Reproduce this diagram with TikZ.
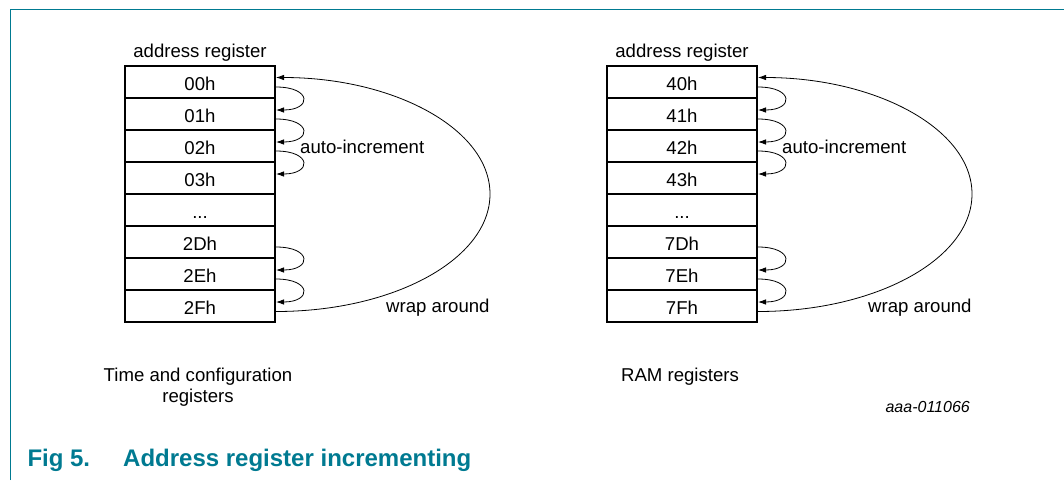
\documentclass[tikz,border=0pt]{standalone}
\usepackage{fontspec}
\setmainfont{Liberation Sans}
\usetikzlibrary{calc,arrows.meta}
\definecolor{nxpteal}{RGB}{0,122,145}
\tikzset{
  reg/.style={draw, line width=2pt, fill=white, minimum width=150pt, minimum height=32pt,
    inner sep=0pt, text height=16pt, text depth=0pt, font=\fontsize{18.6}{22}\selectfont},
  txt/.style={inner sep=0pt, font=\fontsize{18.6}{22}\selectfont},
  inc/.style={line width=0.8pt, -{Latex[length=8pt,width=5.5pt]}},
  wrap/.style={line width=0.8pt, -{Latex[length=8pt,width=5.5pt]}},
  frame/.style={draw=nxpteal, line width=1.5pt}
}
\begin{document}
\begin{tikzpicture}[x=1pt,y=-1pt]
\useasboundingbox (0,0) rectangle (1064,480);
\draw[frame] (10.5,480) -- (10.5,9.3) -- (1064,9.3);

% ---------- left diagram ----------
\node[txt, anchor=base] (Lhead) at (200,57.5) {address register};
\node[reg] (L0) at (200,82)  {00h};
\node[reg] (L1) at (200,114) {01h};
\node[reg] (L2) at (200,146) {02h};
\node[reg] (L3) at (200,178) {03h};
\node[reg] (L4) at (200,210) {...};
\node[reg] (L5) at (200,242) {2Dh};
\node[reg] (L6) at (200,274) {2Eh};
\node[reg] (L7) at (200,306) {2Fh};

\foreach \a/\b in {0/1,1/2,2/3,5/6,6/7}{
  \draw[inc] ($(L\a.east)+(0,5)$) .. controls ($(L\a.east)+(36,5)$) and ($(L\b.east)+(36,-4)$) .. ($(L\b.east)+(0,-4)$);
}
\coordinate (Lw) at ($(L0.east)!0.5!(L7.east)+(214,0)$);
\draw[wrap] ($(L7.east)+(0,5.5)$) .. controls ($(L7.east)+(118,5.5)$) and ($(Lw)+(0,65)$) .. (Lw)
  .. controls ($(Lw)+(0,-65)$) and ($(L0.east)+(118,-4.5)$) .. ($(L0.east)+(0,-4.5)$);

\node[txt, anchor=base west] (Linc) at (300,153) {auto-increment};
\node[txt, anchor=base west] (Lwrap) at (386,312) {wrap around};
\node[txt, anchor=base] (Lcap1) at (198,381.5) {Time and configuration};
\node[txt, anchor=base] (Lcap2) at (198,402) {registers};

% ---------- right diagram ----------
\node[txt, anchor=base] (Rhead) at (682,57.5) {address register};
\node[reg] (R0) at (682,82)  {40h};
\node[reg] (R1) at (682,114) {41h};
\node[reg] (R2) at (682,146) {42h};
\node[reg] (R3) at (682,178) {43h};
\node[reg] (R4) at (682,210) {...};
\node[reg] (R5) at (682,242) {7Dh};
\node[reg] (R6) at (682,274) {7Eh};
\node[reg] (R7) at (682,306) {7Fh};

\foreach \a/\b in {0/1,1/2,2/3,5/6,6/7}{
  \draw[inc] ($(R\a.east)+(0,5)$) .. controls ($(R\a.east)+(36,5)$) and ($(R\b.east)+(36,-4)$) .. ($(R\b.east)+(0,-4)$);
}
\coordinate (Rw) at ($(R0.east)!0.5!(R7.east)+(214,0)$);
\draw[wrap] ($(R7.east)+(0,5.5)$) .. controls ($(R7.east)+(118,5.5)$) and ($(Rw)+(0,65)$) .. (Rw)
  .. controls ($(Rw)+(0,-65)$) and ($(R0.east)+(118,-4.5)$) .. ($(R0.east)+(0,-4.5)$);

\node[txt, anchor=base west] (Rinc) at (782,153) {auto-increment};
\node[txt, anchor=base west] (Rwrap) at (868,312) {wrap around};
\node[txt, anchor=base] (Rcap) at (680,381.5) {RAM registers};

% ---------- id and caption ----------
\node[inner sep=0pt, anchor=base east, font=\fontsize{16}{19}\selectfont\itshape] (id) at (970,412.3) {aaa-011066};
\node[inner sep=0pt, anchor=base west, text=nxpteal, font=\fontsize{24}{28}\selectfont\bfseries] (caption) at (27.3,466.7)
  {\makebox[95.7pt][l]{Fig 5.}Address register incrementing};
\end{tikzpicture}
\end{document}
